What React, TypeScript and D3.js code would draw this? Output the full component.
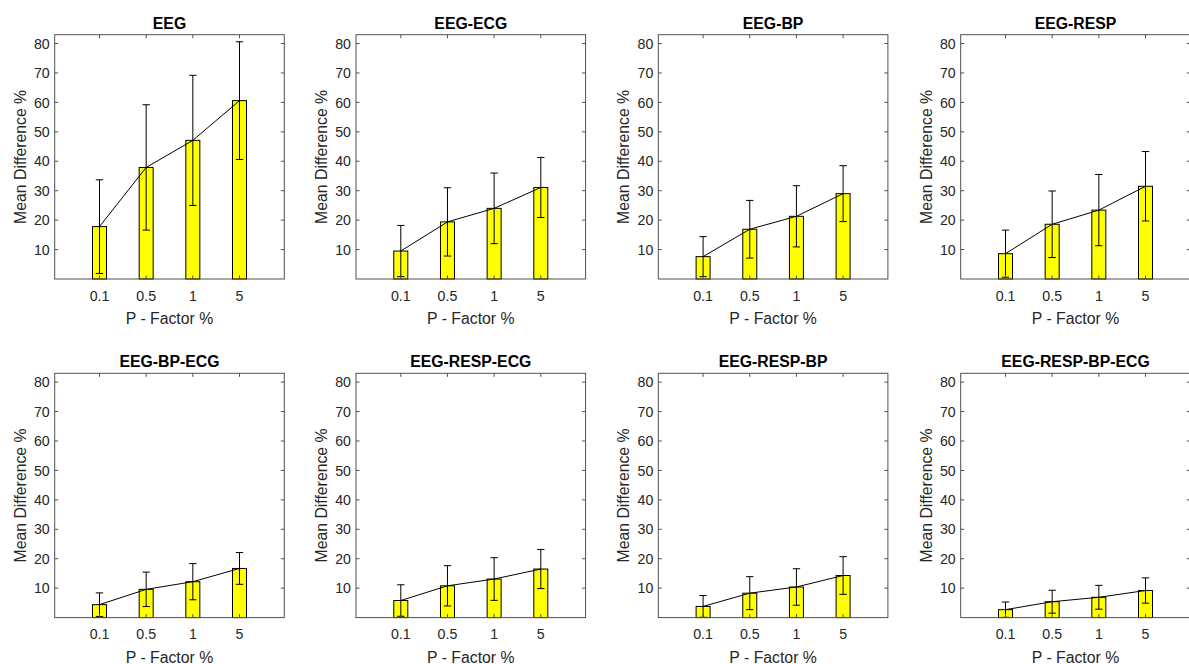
import React from "react";
import * as d3 from "d3";

const categories = ["0.1", "0.5", "1", "5"];
const panelTitles = [
  "EEG",
  "EEG-ECG",
  "EEG-BP",
  "EEG-RESP",
  "EEG-BP-ECG",
  "EEG-RESP-ECG",
  "EEG-RESP-BP",
  "EEG-RESP-BP-ECG",
];
const meanValues = [
  [17.8, 37.9, 47.1, 60.6],
  [9.5, 19.4, 24.0, 31.1],
  [7.6, 16.9, 21.3, 29.0],
  [8.6, 18.6, 23.4, 31.5],
  [4.4, 9.6, 12.2, 16.7],
  [5.8, 10.8, 13.1, 16.5],
  [3.8, 8.3, 10.4, 14.3],
  [2.7, 5.4, 6.9, 9.2],
];
const errorValues = [
  [15.9, 21.3, 22.1, 20.0],
  [8.7, 11.6, 12.0, 10.2],
  [6.8, 9.8, 10.4, 9.5],
  [8.0, 11.3, 12.1, 11.8],
  [4.0, 5.85, 6.15, 5.4],
  [5.35, 6.85, 7.25, 6.65],
  [3.7, 5.6, 6.2, 6.4],
  [2.6, 3.9, 4.05, 4.3],
];
const yTicks = [10, 20, 30, 40, 50, 60, 70, 80];
const yDomain = [0, 83];
const xDomain = [0.04, 4.96];
const barWidthUnits = 0.3;

const colLefts = [54.7, 356, 658.3, 960.7];
const rowTops = [34.7, 373.3];
const panelW = 229.6;
const panelH = 244.3;
const AX = "#262626";
const BOX = "#505050";
const FONT = "Liberation Sans, Arial, Helvetica, sans-serif";
const TICK_FS = 14.2;
const LABEL_FS = 15.8;

function Panel({ idx }: { idx: number }) {
  const col = idx % 4;
  const row = Math.floor(idx / 4);
  const left = colLefts[col];
  const top = rowTops[row];
  const x = d3.scaleLinear().domain(xDomain).range([left, left + panelW]);
  const y = d3.scaleLinear().domain(yDomain).range([top + panelH, top]);
  const means = meanValues[idx];
  const errs = errorValues[idx];
  const pos = categories.map((_, i) => i + 1);
  const line = d3
    .line<number>()
    .x((_, i) => x(pos[i]))
    .y((d) => y(d));
  const bw = x(barWidthUnits) - x(0);
  const capW = 7.4;
  const tickLen = 3.5;
  const bottom = top + panelH;
  const right = left + panelW;
  return (
    <g>
      <rect x={left} y={top} width={panelW} height={panelH} fill="#fff" />
      {means.map((m, i) => (
        <rect
          key={"b" + i}
          x={x(pos[i]) - bw / 2}
          y={y(m)}
          width={bw}
          height={y(0) - y(m)}
          fill="#ffff00"
          stroke="#000"
          strokeWidth={1}
        />
      ))}
      <path d={line(means) || ""} fill="none" stroke="#000" strokeWidth={1} />
      {means.map((m, i) => {
        const cx = x(pos[i]);
        const lo = y(Math.max(m - errs[i], 0));
        const hi = y(m + errs[i]);
        return (
          <g key={"e" + i} stroke="#000" strokeWidth={1}>
            <line x1={cx} x2={cx} y1={lo} y2={hi} />
            <line x1={cx - capW / 2} x2={cx + capW / 2} y1={hi} y2={hi} />
            <line x1={cx - capW / 2} x2={cx + capW / 2} y1={lo} y2={lo} />
          </g>
        );
      })}
      <rect x={left} y={top} width={panelW} height={panelH} fill="none" stroke={BOX} strokeWidth={1} />
      {yTicks.map((t) => (
        <g key={"yt" + t}>
          <line x1={left} x2={left + tickLen} y1={y(t)} y2={y(t)} stroke={BOX} />
          <line x1={right - tickLen} x2={right} y1={y(t)} y2={y(t)} stroke={BOX} />
          <text
            x={left - 5}
            y={y(t)}
            dy="0.36em"
            textAnchor="end"
            fontSize={TICK_FS}
            fontFamily={FONT}
            fill={AX}
          >
            {t}
          </text>
        </g>
      ))}
      {categories.map((c, i) => (
        <g key={"xt" + i}>
          <line x1={x(pos[i])} x2={x(pos[i])} y1={top} y2={top + tickLen} stroke={BOX} />
          <line x1={x(pos[i])} x2={x(pos[i])} y1={bottom - tickLen} y2={bottom} stroke={BOX} />
          <text
            x={x(pos[i])}
            y={bottom + 21.5}
            textAnchor="middle"
            fontSize={TICK_FS}
            fontFamily={FONT}
            fill={AX}
          >
            {c}
          </text>
        </g>
      ))}
      <text
        x={(left + right) / 2}
        y={bottom + 45}
        textAnchor="middle"
        fontSize={LABEL_FS}
        fontFamily={FONT}
        fill={AX}
      >
        P - Factor %
      </text>
      <text
        transform={`translate(${left - 29},${(top + bottom) / 2}) rotate(-90)`}
        textAnchor="middle"
        fontSize={LABEL_FS}
        fontFamily={FONT}
        fill={AX}
      >
        Mean Difference %
      </text>
      <text
        x={(left + right) / 2}
        y={top - 6}
        textAnchor="middle"
        fontSize={LABEL_FS}
        fontWeight="bold"
        fontFamily={FONT}
        fill="#000"
      >
        {panelTitles[idx]}
      </text>
    </g>
  );
}

export default function App() {
  return (
    <svg
      width={1189}
      height={664}
      style={{ position: "absolute", left: 0, top: 0, display: "block", background: "#fff" }}
    >
      <rect x={0} y={0} width={1189} height={664} fill="#fff" />
      {panelTitles.map((_, i) => (
        <Panel key={i} idx={i} />
      ))}
    </svg>
  );
}
